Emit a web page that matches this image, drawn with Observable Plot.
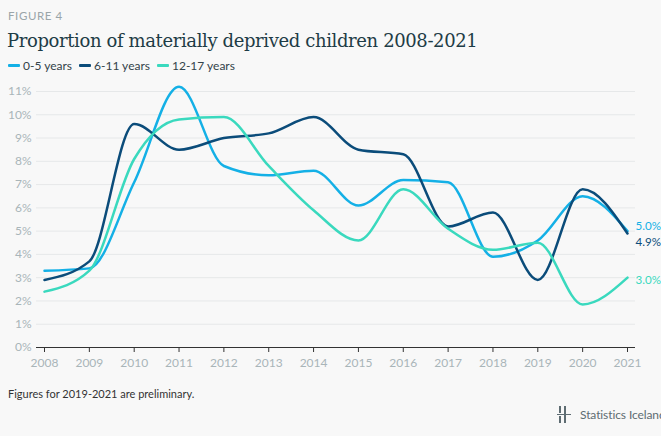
<!DOCTYPE html>
<html><head><meta charset="utf-8">
<script src="https://cdn.jsdelivr.net/npm/d3@7"></script>
<script src="https://cdn.jsdelivr.net/npm/@observablehq/plot@0.6"></script>
<style>
html,body{margin:0;padding:0;background:#f8f8f8;}
body{width:661px;height:436px;position:relative;overflow:hidden;font-family:Lato,"Noto Sans",sans-serif;}
#fig{position:absolute;left:8px;top:9px;font-size:11.5px;letter-spacing:0.6px;color:#9aa5a9;}
#title{position:absolute;left:7px;top:30px;font-family:"DejaVu Serif",serif;font-size:18px;color:#1e3c46;letter-spacing:-0.38px;}
#legend{position:absolute;left:8px;top:58px;font-size:12px;color:#33434a;display:flex;gap:7px;}
#legend span{display:flex;align-items:center;}
#legend i{display:inline-block;width:12px;height:3px;margin-right:3px;border-radius:1px;}
#chart{position:absolute;left:0;top:76px;}
#caption{position:absolute;left:8px;top:387px;font-size:11px;color:#333;}
#logo{position:absolute;left:557px;top:405px;font-size:12px;color:#5e6c72;display:flex;align-items:center;white-space:nowrap;letter-spacing:-0.1px;}
</style></head>
<body>
<div id="fig">FIGURE 4</div>
<div id="title">Proportion of materially deprived children 2008-2021</div>
<div id="legend"></div>
<div id="chart"></div>
<div id="caption">Figures for 2019-2021 are preliminary.</div>
<div id="logo"><svg width="14" height="18" style="margin-right:9px"><g stroke="#5e6c72" stroke-width="2"><line x1="3" y1="1" x2="3" y2="8"/><line x1="3" y1="11" x2="3" y2="18"/><line x1="8" y1="1" x2="8" y2="18"/><line x1="0" y1="9.5" x2="14" y2="9.5" stroke-width="1"/></g></svg>Statistics Iceland</div>
<script>
const years = [2008,2009,2010,2011,2012,2013,2014,2015,2016,2017,2018,2019,2020,2021];
const age0_5   = [3.3,3.4,7.1,11.2,7.8,7.4,7.6,6.1,7.2,7.1,3.9,4.6,6.5,5.0];
const age6_11  = [2.9,3.7,9.6,8.5,9.0,9.2,9.9,8.5,8.3,5.2,5.8,2.9,6.8,4.9];
const age12_17 = [2.4,3.3,8.1,9.8,9.9,7.8,5.9,4.6,6.8,5.1,4.2,4.5,1.85,3.0];
const seriesNames = ["0-5 years","6-11 years","12-17 years"];
const colors = ["#14b0e6","#0b4c7a","#3ad9be"];
const yTicks = [0,1,2,3,4,5,6,7,8,9,10,11];
const labelShift = [-5, 9, 3];

const seriesVals = [age0_5, age6_11, age12_17];
const data = [];
seriesVals.forEach((vals,i)=>vals.forEach((v,j)=>data.push({year:years[j], value:v, series:seriesNames[i]})));

const leg = document.getElementById("legend");
seriesNames.forEach((n,i)=>{const s=document.createElement("span");s.innerHTML=`<i style="background:${colors[i]}"></i>${n}`;leg.appendChild(s);});

const endLabels = seriesVals.map((vals,i)=>Plot.text(
  [{year:years[years.length-1], value:vals[vals.length-1], series:seriesNames[i]}],
  {x:"year", y:"value", text:d=>d.value.toFixed(1)+"%", fill:"series", dx:8, dy:labelShift[i], textAnchor:"start", fontSize:11.6}
));

const chart = Plot.plot({
  width:661, height:301,
  marginTop:15, marginBottom:30, marginLeft:44, marginRight:34,
  style:{background:"transparent", fontFamily:"Lato, sans-serif", fontSize:"12px"},
  x:{domain:[2008,2021], ticks:years, tickFormat:d=>String(d), label:null},
  y:{domain:[0,11], ticks:yTicks, label:null},
  color:{domain:seriesNames, range:colors},
  marks:[
    Plot.ruleY(yTicks.filter(d=>d>0), {stroke:"#e6e8e9", strokeWidth:1, insetLeft:-8, insetRight:-8}),
    Plot.axisY({ticks:yTicks, tickSize:0, tickPadding:13, tickFormat:d=>d+"%", fill:"#a9b5b9", fontSize:12}),
    Plot.axisX({ticks:years, tickSize:5, tickPadding:6, tickFormat:d=>String(d), stroke:"#333", fill:"#a9b5b9", fontSize:12, label:null}),
    Plot.ruleY([0], {stroke:"#333", strokeWidth:1.2, insetLeft:-8, insetRight:-8}),
    Plot.line(data, {x:"year", y:"value", z:"series", stroke:"series", strokeWidth:2.5, curve:"monotone-x"}),
    ...endLabels
  ]
});
document.getElementById("chart").appendChild(chart);
</script>
</body></html>
